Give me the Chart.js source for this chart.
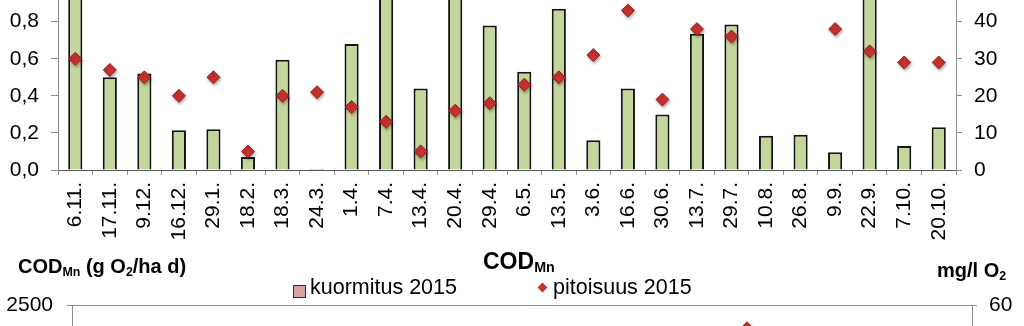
<!DOCTYPE html>
<html>
<head>
<meta charset="utf-8">
<script src="https://cdn.jsdelivr.net/npm/chart.js@4"></script>
<style>
  html, body { margin: 0; padding: 0; background: #fff; }
  #page { position: relative; width: 1024px; height: 326px; overflow: hidden; background: #fff;
          font-family: "Liberation Sans", Arial, sans-serif; color: #000; }
  #page canvas { position: absolute; left: 0; }
  #topChart { top: -40px; }
  #codChart { top: 240px; }
  .lbl { position: absolute; white-space: nowrap; line-height: 1; }
  .lbl sub { font-size: 0.62em; vertical-align: -0.22em; line-height: 0; }
  .bold { font-weight: bold; }
  .sq { position: absolute; width: 11px; height: 11px; background: #dba3a3; border: 1px solid #3a2a2a; }
  .dia { position: absolute; width: 7px; height: 7px; background: #c8322e; transform: rotate(45deg); }
</style>
</head>
<body>
<div id="page">
  <canvas id="topChart" width="1024" height="290"></canvas>
  <canvas id="codChart" width="1024" height="320"></canvas>

  <div class="lbl bold" style="left:18px; top:256px; font-size:20px;">COD<sub>Mn</sub> (g O<sub>2</sub>/ha d)</div>
  <div class="lbl bold" style="left:483px; top:250px; font-size:23px;">COD<sub>Mn</sub></div>
  <div class="lbl bold" style="left:937px; top:260px; font-size:20px;">mg/l O<sub>2</sub></div>

  <div class="sq" style="left:293px; top:285px;"></div>
  <div class="lbl" style="left:310px; top:277px; font-size:21.5px;">kuormitus 2015</div>
  <div class="dia" style="left:539px; top:284px;"></div>
  <div class="lbl" style="left:553px; top:277px; font-size:21.5px;">pitoisuus 2015</div>
</div>

<script>
// sampling dates
const dates = ["6.11.","17.11.","9.12.","16.12.","29.1.","18.2.","18.3.","24.3.","1.4.","7.4.",
  "13.4.","20.4.","29.4.","6.5.","13.5.","3.6.","16.6.","30.6.","13.7.","29.7.",
  "10.8.","26.8.","9.9.","22.9.","7.10.","20.10."];

// upper chart: load (left axis) and concentration (right axis)
const topLoad = [1.15,0.50,0.52,0.215,0.22,0.07,0.595,0.005,0.68,1.05,
  0.44,1.2,0.78,0.53,0.87,0.16,0.44,0.30,0.735,0.785,
  0.185,0.19,0.096,1.1,0.13,0.23];
const topConc = [30,27,25,20,25,5,20,21,17,13,
  5,16,18,23,25,31,43,19,38,36,
  null,null,38,32,29,29];
const topLeftMax = 1.0, topLeftStep = 0.2;
const topRightMax = 50, topRightStep = 10;

// COD_Mn chart
const codLoad = dates.map(() => null);
const codConc = [null,null,null,null,null,null,null,null,null,null,
  null,null,null,null,null,null,null,null,null,52,
  null,null,null,null,null,null];
const codLeftMax = 2500, codLeftStep = 500;
const codRightMax = 60, codRightStep = 10;

const FONT = "'Liberation Sans', Arial, sans-serif";
const AXIS_GREY = "#8c8c8c";

// soft drop shadow under the concentration markers
const markerShadow = {
  id: "markerShadow",
  beforeDatasetDraw(chart, args){
    if(chart.data.datasets[args.index].type !== "line") return;
    const c = chart.ctx;
    c.save();
    c.shadowColor = "rgba(0,0,0,0.3)";
    c.shadowBlur = 3;
    c.shadowOffsetX = 1;
    c.shadowOffsetY = 2;
  },
  afterDatasetDraw(chart, args){
    if(chart.data.datasets[args.index].type !== "line") return;
    chart.ctx.restore();
  }
};

function comma(v){ return v.toFixed(1).replace(".", ","); }

function fixedWidth(w){ return function(scale){ scale.width = w; }; }
function fixedHeight(h){ return function(scale){ scale.height = h; }; }

new Chart(document.getElementById("topChart"), {
  type: "bar",
  data: {
    labels: dates,
    datasets: [
      {
        type: "line", label: "pitoisuus", data: topConc, yAxisID: "y1",
        showLine: false, pointStyle: "rectRot", pointRadius: 6.5,
        backgroundColor: "#c8322e", borderColor: "#96201d", borderWidth: 1, order: 0
      },
      {
        label: "kuormitus", data: topLoad, yAxisID: "y",
        backgroundColor: "#c3d69b", borderColor: "#141414", borderWidth: 2,
        barPercentage: 0.41, categoryPercentage: 1, order: 1
      }
    ]
  },
  options: {
    responsive: false, animation: false,
    layout: { padding: { top: 20, left: 0, right: 0, bottom: 0 } },
    plugins: { legend: { display: false }, tooltip: { enabled: false } },
    scales: {
      x: {
        afterFit: fixedHeight(80),
        border: { color: "#5a5a5a", width: 1 },
        grid: { drawOnChartArea: false, tickLength: 5, color: AXIS_GREY },
        ticks: { autoSkip: false, minRotation: 90, maxRotation: 90, padding: 7,
                 color: "#000", font: { family: FONT, size: 21 } }
      },
      y: {
        position: "left", min: 0, max: topLeftMax,
        afterFit: fixedWidth(58),
        border: { color: AXIS_GREY, width: 1 },
        grid: { drawOnChartArea: false, tickLength: 7, color: AXIS_GREY },
        ticks: { stepSize: topLeftStep, padding: 12, color: "#000",
                 font: { family: FONT, size: 21 }, callback: v => comma(v) }
      },
      y1: {
        position: "right", min: 0, max: topRightMax,
        afterFit: fixedWidth(68),
        border: { color: AXIS_GREY, width: 1 },
        grid: { drawOnChartArea: false, tickLength: 6, color: AXIS_GREY },
        ticks: { stepSize: topRightStep, padding: 12, color: "#000",
                 font: { family: FONT, size: 21 } }
      }
    }
  },
  plugins: [markerShadow]
});

new Chart(document.getElementById("codChart"), {
  type: "bar",
  data: {
    labels: dates,
    datasets: [
      {
        type: "line", label: "pitoisuus 2015", data: codConc, yAxisID: "y1",
        showLine: false, pointStyle: "rectRot", pointRadius: 6.5,
        backgroundColor: "#c8322e", borderColor: "#96201d", borderWidth: 1, order: 0
      },
      {
        label: "kuormitus 2015", data: codLoad, yAxisID: "y",
        backgroundColor: "#dba3a3", borderColor: "#141414", borderWidth: 2,
        barPercentage: 0.41, categoryPercentage: 1, order: 1
      }
    ]
  },
  options: {
    responsive: false, animation: false,
    layout: { padding: { top: 65, left: 0, right: 0, bottom: 0 } },
    plugins: { legend: { display: false }, tooltip: { enabled: false } },
    scales: {
      x: {
        afterFit: fixedHeight(80),
        border: { color: "#5a5a5a", width: 1 },
        grid: { drawOnChartArea: false, tickLength: 5, color: AXIS_GREY },
        ticks: { autoSkip: false, minRotation: 90, maxRotation: 90, padding: 7,
                 color: "#000", font: { family: FONT, size: 21 } }
      },
      y: {
        position: "left", min: 0, max: codLeftMax,
        afterFit: fixedWidth(72),
        border: { color: AXIS_GREY, width: 1 },
        grid: {
          tickLength: 5, tickColor: AXIS_GREY,
          color: ctx => ctx.tick && ctx.tick.value === codLeftMax ? AXIS_GREY : "rgba(0,0,0,0)"
        },
        ticks: { stepSize: codLeftStep, padding: 14, color: "#000",
                 font: { family: FONT, size: 21 }, callback: v => String(v) }
      },
      y1: {
        position: "right", min: 0, max: codRightMax,
        afterFit: fixedWidth(52),
        border: { color: AXIS_GREY, width: 1 },
        grid: { drawOnChartArea: false, tickLength: 5, color: AXIS_GREY },
        ticks: { stepSize: codRightStep, padding: 12, color: "#000",
                 font: { family: FONT, size: 21 } }
      }
    }
  },
  plugins: [markerShadow]
});
</script>
</body>
</html>
